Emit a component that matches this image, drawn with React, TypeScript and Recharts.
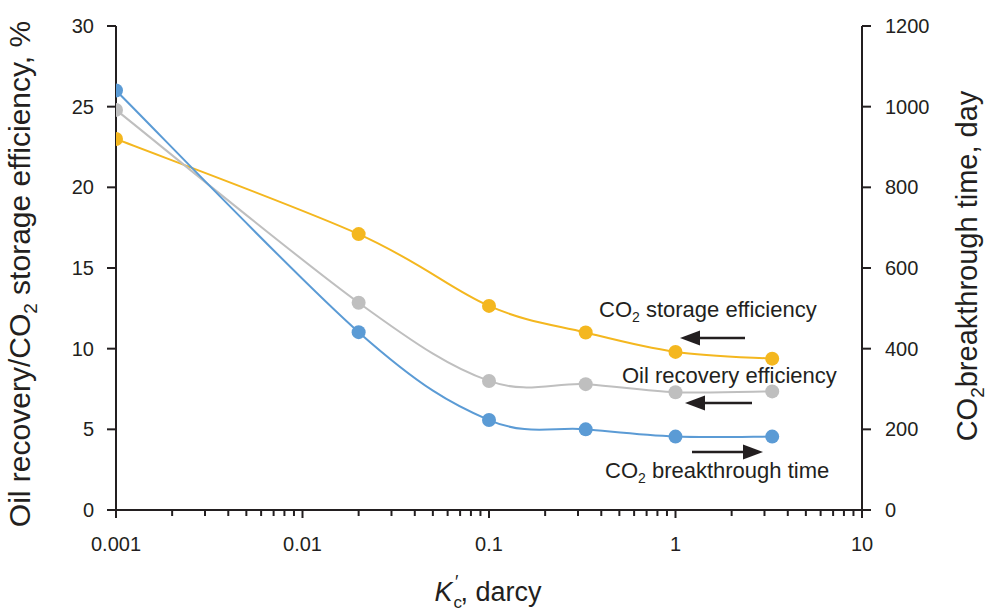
import { LineChart, Line, XAxis, YAxis } from "recharts";

// permeability K'c (darcy) and the three measured series
const permeability = [0.001, 0.02, 0.1, 0.33, 1, 3.3];
const storageEfficiency = [23.0, 17.1, 12.65, 11.0, 9.8, 9.38];
const oilRecovery = [24.8, 12.85, 8.0, 7.8, 7.3, 7.35];
const breakthroughDays = [1040, 441, 223, 200, 182, 182];

const majorTicks = [0.001, 0.01, 0.1, 1, 10];
const leftTicks = [0, 5, 10, 15, 20, 25, 30];
const rightTicks = [0, 200, 400, 600, 800, 1000, 1200];

const data = permeability.map((k, i) => ({
    k,
    storage: storageEfficiency[i],
    oil: oilRecovery[i],
    days: breakthroughDays[i],
}));

// decade ticks plus the 2..9 minor ticks in between
const xTicks: number[] = [];
majorTicks.slice(0, -1).forEach((d) => {
    for (let m = 1; m < 10; m++) xTicks.push(+(d * m).toPrecision(3));
});
xTicks.push(majorTicks[majorTicks.length - 1]);

const FONT = '"Liberation Sans", Arial, sans-serif';
const INK = "#231F20";
const ORANGE = "#F4B71F";
const GRAY = "#BFBFBF";
const BLUE = "#5B9BD5";

// Excel-like smoothed line (Catmull-Rom through the points)
const smoothCurve = (context: any) => {
    let pts: number[][] = [];
    return {
        areaStart() {},
        areaEnd() {},
        lineStart() {
            pts = [];
        },
        lineEnd() {
            if (!pts.length) return;
            context.moveTo(pts[0][0], pts[0][1]);
            for (let i = 0; i < pts.length - 1; i++) {
                const p0 = pts[Math.max(i - 1, 0)];
                const p1 = pts[i];
                const p2 = pts[i + 1];
                const p3 = pts[Math.min(i + 2, pts.length - 1)];
                context.bezierCurveTo(
                    p1[0] + (p2[0] - p0[0]) / 6,
                    p1[1] + (p2[1] - p0[1]) / 6,
                    p2[0] - (p3[0] - p1[0]) / 6,
                    p2[1] - (p3[1] - p1[1]) / 6,
                    p2[0],
                    p2[1]
                );
            }
        },
        point(x: number, y: number) {
            pts.push([+x, +y]);
        },
    };
};

const XTick = (props: any) => {
    const { x, y, payload } = props;
    const major = majorTicks.includes(payload.value);
    return (
        <g>
            <line x1={x} x2={x} y1={y} y2={y + (major ? 8 : 6)} stroke={INK} strokeWidth={2} />
            {major && (
                <text x={x} y={y + 41} textAnchor="middle" fontSize={20} fill={INK} fontFamily={FONT}>
                    {String(payload.value)}
                </text>
            )}
        </g>
    );
};

const Arrow = ({ x1, x2, y }: { x1: number; x2: number; y: number }) => {
    const dir = x2 > x1 ? 1 : -1;
    const base = x2 - dir * 20;
    return (
        <g>
            <line x1={x1} x2={base} y1={y} y2={y} stroke={INK} strokeWidth={2.5} />
            <polygon points={`${x2},${y} ${base},${y - 7.5} ${base},${y + 7.5}`} fill={INK} />
        </g>
    );
};

const tickStyle = { fontSize: 20, fill: INK, fontFamily: FONT };

export default function App() {
    return (
        <div style={{ position: "absolute", left: 0, top: 0, width: 988, height: 613, background: "#fff" }}>
            <LineChart
                width={988}
                height={613}
                data={data}
                margin={{ top: 26, right: 46, bottom: 43, left: 56 }}
            >
                <XAxis
                    dataKey="k"
                    type="number"
                    scale="log"
                    domain={[0.001, 10]}
                    ticks={xTicks}
                    interval={0}
                    height={60}
                    tickLine={false}
                    tickSize={0}
                    tickMargin={0}
                    tick={<XTick />}
                    axisLine={{ stroke: INK, strokeWidth: 2 }}
                    allowDataOverflow
                />
                <YAxis
                    yAxisId="left"
                    width={60}
                    domain={[0, 30]}
                    ticks={leftTicks}
                    interval={0}
                    tickSize={9}
                    tickMargin={13}
                    tick={tickStyle}
                    tickLine={{ stroke: INK, strokeWidth: 2 }}
                    axisLine={{ stroke: INK, strokeWidth: 2 }}
                />
                <YAxis
                    yAxisId="right"
                    orientation="right"
                    width={80}
                    domain={[0, 1200]}
                    ticks={rightTicks}
                    interval={0}
                    tickSize={9}
                    tickMargin={14}
                    tick={tickStyle}
                    tickLine={{ stroke: INK, strokeWidth: 2 }}
                    axisLine={{ stroke: INK, strokeWidth: 2 }}
                />
                <Line
                    yAxisId="left"
                    dataKey="storage"
                    type={smoothCurve as any}
                    stroke={ORANGE}
                    strokeWidth={2}
                    dot={{ r: 7, fill: ORANGE, stroke: ORANGE, strokeWidth: 0 }}
                    activeDot={false}
                    isAnimationActive={false}
                />
                <Line
                    yAxisId="left"
                    dataKey="oil"
                    type={smoothCurve as any}
                    stroke={GRAY}
                    strokeWidth={2}
                    dot={{ r: 7, fill: GRAY, stroke: GRAY, strokeWidth: 0 }}
                    activeDot={false}
                    isAnimationActive={false}
                />
                <Line
                    yAxisId="right"
                    dataKey="days"
                    type={smoothCurve as any}
                    stroke={BLUE}
                    strokeWidth={2}
                    dot={{ r: 7, fill: BLUE, stroke: BLUE, strokeWidth: 0 }}
                    activeDot={false}
                    isAnimationActive={false}
                />
            </LineChart>

            {/* axis titles and series annotations */}
            <svg
                width={988}
                height={613}
                style={{ position: "absolute", left: 0, top: 0, pointerEvents: "none" }}
                fontFamily={FONT}
                fill={INK}
            >
                <text x={30} y={274} fontSize={30} textAnchor="middle" transform="rotate(-90 30 274)">
                    Oil recovery/CO
                    <tspan fontSize={19} dy={7}>2</tspan>
                    <tspan dy={-7}> storage efficiency, %</tspan>
                </text>
                <text x={977} y={266} fontSize={29} textAnchor="middle" transform="rotate(-90 977 266)">
                    CO
                    <tspan fontSize={19} dy={7}>2</tspan>
                    <tspan dy={-7}>breakthrough time, day</tspan>
                </text>
                <text x={488} y={601} fontSize={27} textAnchor="middle">
                    <tspan fontStyle="italic">K</tspan>
                    <tspan fontSize={17} dx={1} dy={7}>c</tspan>
                    <tspan fontSize={18} dx={-7} dy={-20}>′</tspan>
                    <tspan dx={2} dy={13}>, darcy</tspan>
                </text>

                <text x={599} y={317} fontSize={22}>
                    CO
                    <tspan fontSize={14} dy={5}>2</tspan>
                    <tspan dy={-5}> storage efficiency</tspan>
                </text>
                <text x={622} y={383} fontSize={22}>
                    Oil recovery efficiency
                </text>
                <text x={605} y={478} fontSize={22}>
                    CO
                    <tspan fontSize={14} dy={5}>2</tspan>
                    <tspan dy={-5}> breakthrough time</tspan>
                </text>
                <Arrow x1={745} x2={680} y={338} />
                <Arrow x1={752} x2={685} y={403} />
                <Arrow x1={692} x2={763} y={452} />
            </svg>
        </div>
    );
}
